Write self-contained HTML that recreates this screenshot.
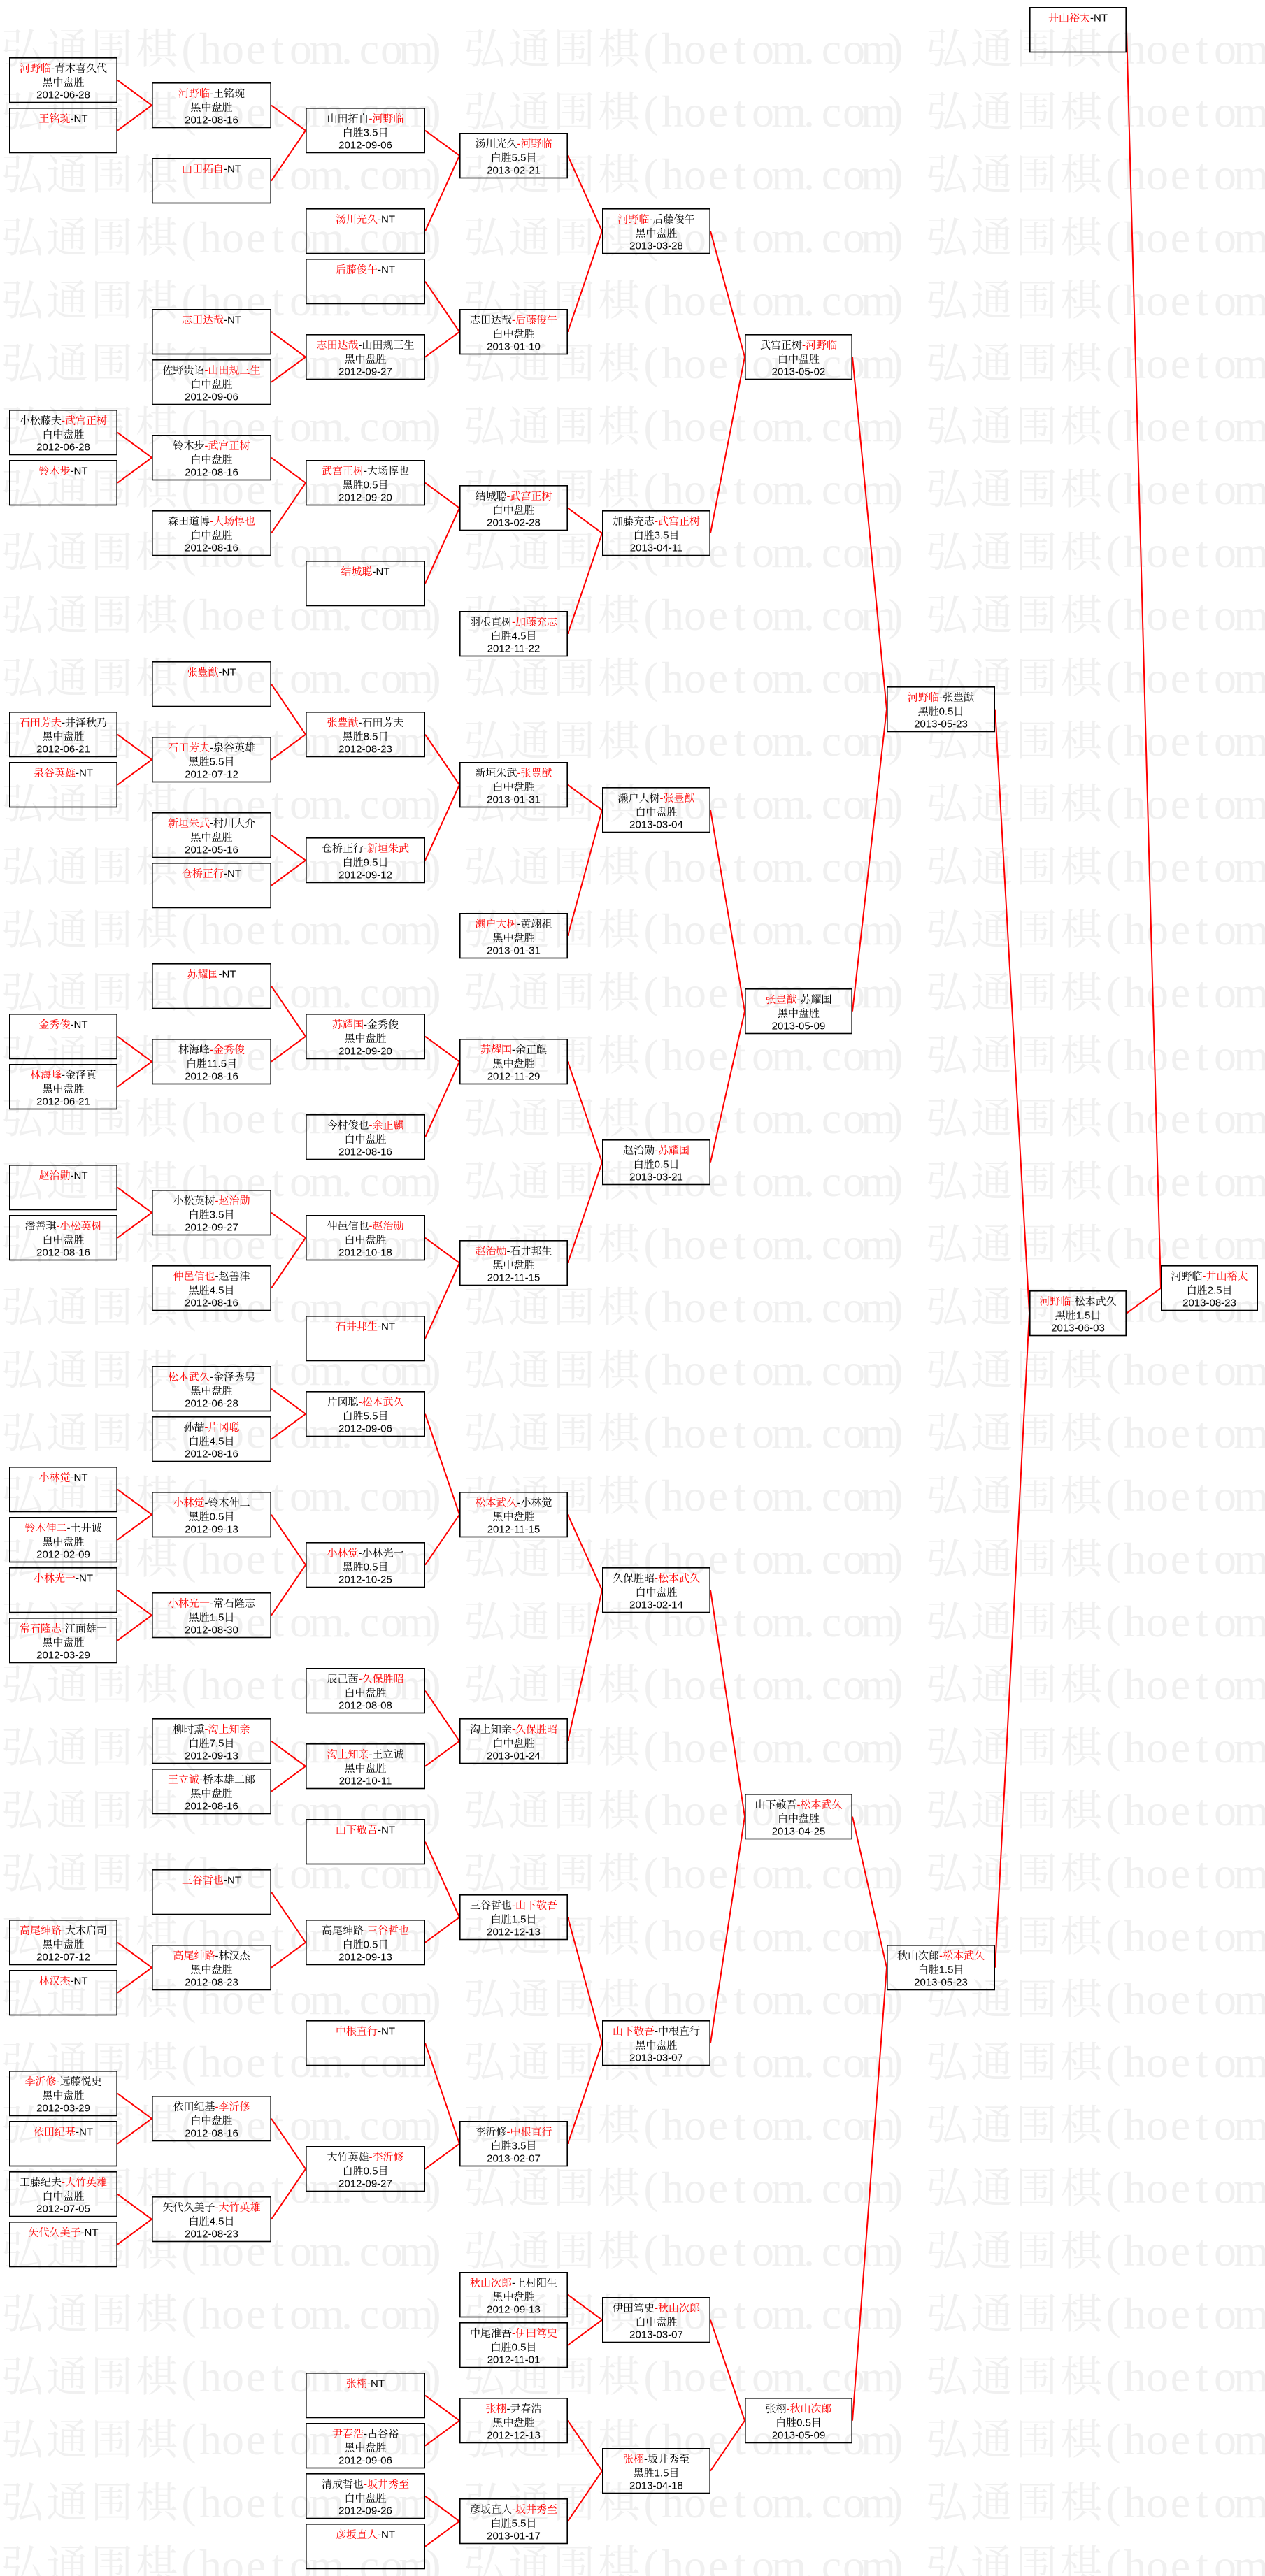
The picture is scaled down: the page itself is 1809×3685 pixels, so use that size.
<!DOCTYPE html>
<html><head><meta charset="utf-8"><style>
html,body{margin:0;padding:0;background:#fff;}
svg{display:block;}
.w{font-family:"Liberation Serif","Noto Serif CJK SC",serif;fill:#f0f0f0;text-anchor:middle;font-size:64px;}
.w .c{font-size:60px;}
.b{fill:none;stroke:#000;stroke-width:1.6;}
.t{font-family:"Liberation Sans","Noto Serif CJK SC",serif;font-size:15px;text-anchor:middle;fill:#000;}
.t .r{fill:#f00;}
.l{fill:none;stroke:#f00;stroke-width:2;}
</style></head><body>
<svg xmlns="http://www.w3.org/2000/svg" width="1809" height="3685" viewBox="0 0 1809 3685">
<rect width="1809" height="3685" fill="#fff"/>
<g class="w">
<text y="91"><tspan class="c" x="32 96 160 224">弘通围棋</tspan><tspan x="270 301 333 366 397 430 467 496 528 560 595 620">(hoetom.com)</tspan><tspan class="c" x="693 757 821 885">弘通围棋</tspan><tspan x="931 962 994 1027 1058 1091 1128 1157 1189 1221 1256 1281">(hoetom.com)</tspan><tspan class="c" x="1354 1418 1482 1546">弘通围棋</tspan><tspan x="1592 1623 1655 1688 1719 1752 1789 1818 1850 1882 1917 1942">(hoetom.com)</tspan></text>
<text y="181"><tspan class="c" x="32 96 160 224">弘通围棋</tspan><tspan x="270 301 333 366 397 430 467 496 528 560 595 620">(hoetom.com)</tspan><tspan class="c" x="693 757 821 885">弘通围棋</tspan><tspan x="931 962 994 1027 1058 1091 1128 1157 1189 1221 1256 1281">(hoetom.com)</tspan><tspan class="c" x="1354 1418 1482 1546">弘通围棋</tspan><tspan x="1592 1623 1655 1688 1719 1752 1789 1818 1850 1882 1917 1942">(hoetom.com)</tspan></text>
<text y="271"><tspan class="c" x="32 96 160 224">弘通围棋</tspan><tspan x="270 301 333 366 397 430 467 496 528 560 595 620">(hoetom.com)</tspan><tspan class="c" x="693 757 821 885">弘通围棋</tspan><tspan x="931 962 994 1027 1058 1091 1128 1157 1189 1221 1256 1281">(hoetom.com)</tspan><tspan class="c" x="1354 1418 1482 1546">弘通围棋</tspan><tspan x="1592 1623 1655 1688 1719 1752 1789 1818 1850 1882 1917 1942">(hoetom.com)</tspan></text>
<text y="361"><tspan class="c" x="32 96 160 224">弘通围棋</tspan><tspan x="270 301 333 366 397 430 467 496 528 560 595 620">(hoetom.com)</tspan><tspan class="c" x="693 757 821 885">弘通围棋</tspan><tspan x="931 962 994 1027 1058 1091 1128 1157 1189 1221 1256 1281">(hoetom.com)</tspan><tspan class="c" x="1354 1418 1482 1546">弘通围棋</tspan><tspan x="1592 1623 1655 1688 1719 1752 1789 1818 1850 1882 1917 1942">(hoetom.com)</tspan></text>
<text y="451"><tspan class="c" x="32 96 160 224">弘通围棋</tspan><tspan x="270 301 333 366 397 430 467 496 528 560 595 620">(hoetom.com)</tspan><tspan class="c" x="693 757 821 885">弘通围棋</tspan><tspan x="931 962 994 1027 1058 1091 1128 1157 1189 1221 1256 1281">(hoetom.com)</tspan><tspan class="c" x="1354 1418 1482 1546">弘通围棋</tspan><tspan x="1592 1623 1655 1688 1719 1752 1789 1818 1850 1882 1917 1942">(hoetom.com)</tspan></text>
<text y="541"><tspan class="c" x="32 96 160 224">弘通围棋</tspan><tspan x="270 301 333 366 397 430 467 496 528 560 595 620">(hoetom.com)</tspan><tspan class="c" x="693 757 821 885">弘通围棋</tspan><tspan x="931 962 994 1027 1058 1091 1128 1157 1189 1221 1256 1281">(hoetom.com)</tspan><tspan class="c" x="1354 1418 1482 1546">弘通围棋</tspan><tspan x="1592 1623 1655 1688 1719 1752 1789 1818 1850 1882 1917 1942">(hoetom.com)</tspan></text>
<text y="631"><tspan class="c" x="32 96 160 224">弘通围棋</tspan><tspan x="270 301 333 366 397 430 467 496 528 560 595 620">(hoetom.com)</tspan><tspan class="c" x="693 757 821 885">弘通围棋</tspan><tspan x="931 962 994 1027 1058 1091 1128 1157 1189 1221 1256 1281">(hoetom.com)</tspan><tspan class="c" x="1354 1418 1482 1546">弘通围棋</tspan><tspan x="1592 1623 1655 1688 1719 1752 1789 1818 1850 1882 1917 1942">(hoetom.com)</tspan></text>
<text y="721"><tspan class="c" x="32 96 160 224">弘通围棋</tspan><tspan x="270 301 333 366 397 430 467 496 528 560 595 620">(hoetom.com)</tspan><tspan class="c" x="693 757 821 885">弘通围棋</tspan><tspan x="931 962 994 1027 1058 1091 1128 1157 1189 1221 1256 1281">(hoetom.com)</tspan><tspan class="c" x="1354 1418 1482 1546">弘通围棋</tspan><tspan x="1592 1623 1655 1688 1719 1752 1789 1818 1850 1882 1917 1942">(hoetom.com)</tspan></text>
<text y="811"><tspan class="c" x="32 96 160 224">弘通围棋</tspan><tspan x="270 301 333 366 397 430 467 496 528 560 595 620">(hoetom.com)</tspan><tspan class="c" x="693 757 821 885">弘通围棋</tspan><tspan x="931 962 994 1027 1058 1091 1128 1157 1189 1221 1256 1281">(hoetom.com)</tspan><tspan class="c" x="1354 1418 1482 1546">弘通围棋</tspan><tspan x="1592 1623 1655 1688 1719 1752 1789 1818 1850 1882 1917 1942">(hoetom.com)</tspan></text>
<text y="901"><tspan class="c" x="32 96 160 224">弘通围棋</tspan><tspan x="270 301 333 366 397 430 467 496 528 560 595 620">(hoetom.com)</tspan><tspan class="c" x="693 757 821 885">弘通围棋</tspan><tspan x="931 962 994 1027 1058 1091 1128 1157 1189 1221 1256 1281">(hoetom.com)</tspan><tspan class="c" x="1354 1418 1482 1546">弘通围棋</tspan><tspan x="1592 1623 1655 1688 1719 1752 1789 1818 1850 1882 1917 1942">(hoetom.com)</tspan></text>
<text y="991"><tspan class="c" x="32 96 160 224">弘通围棋</tspan><tspan x="270 301 333 366 397 430 467 496 528 560 595 620">(hoetom.com)</tspan><tspan class="c" x="693 757 821 885">弘通围棋</tspan><tspan x="931 962 994 1027 1058 1091 1128 1157 1189 1221 1256 1281">(hoetom.com)</tspan><tspan class="c" x="1354 1418 1482 1546">弘通围棋</tspan><tspan x="1592 1623 1655 1688 1719 1752 1789 1818 1850 1882 1917 1942">(hoetom.com)</tspan></text>
<text y="1081"><tspan class="c" x="32 96 160 224">弘通围棋</tspan><tspan x="270 301 333 366 397 430 467 496 528 560 595 620">(hoetom.com)</tspan><tspan class="c" x="693 757 821 885">弘通围棋</tspan><tspan x="931 962 994 1027 1058 1091 1128 1157 1189 1221 1256 1281">(hoetom.com)</tspan><tspan class="c" x="1354 1418 1482 1546">弘通围棋</tspan><tspan x="1592 1623 1655 1688 1719 1752 1789 1818 1850 1882 1917 1942">(hoetom.com)</tspan></text>
<text y="1171"><tspan class="c" x="32 96 160 224">弘通围棋</tspan><tspan x="270 301 333 366 397 430 467 496 528 560 595 620">(hoetom.com)</tspan><tspan class="c" x="693 757 821 885">弘通围棋</tspan><tspan x="931 962 994 1027 1058 1091 1128 1157 1189 1221 1256 1281">(hoetom.com)</tspan><tspan class="c" x="1354 1418 1482 1546">弘通围棋</tspan><tspan x="1592 1623 1655 1688 1719 1752 1789 1818 1850 1882 1917 1942">(hoetom.com)</tspan></text>
<text y="1261"><tspan class="c" x="32 96 160 224">弘通围棋</tspan><tspan x="270 301 333 366 397 430 467 496 528 560 595 620">(hoetom.com)</tspan><tspan class="c" x="693 757 821 885">弘通围棋</tspan><tspan x="931 962 994 1027 1058 1091 1128 1157 1189 1221 1256 1281">(hoetom.com)</tspan><tspan class="c" x="1354 1418 1482 1546">弘通围棋</tspan><tspan x="1592 1623 1655 1688 1719 1752 1789 1818 1850 1882 1917 1942">(hoetom.com)</tspan></text>
<text y="1351"><tspan class="c" x="32 96 160 224">弘通围棋</tspan><tspan x="270 301 333 366 397 430 467 496 528 560 595 620">(hoetom.com)</tspan><tspan class="c" x="693 757 821 885">弘通围棋</tspan><tspan x="931 962 994 1027 1058 1091 1128 1157 1189 1221 1256 1281">(hoetom.com)</tspan><tspan class="c" x="1354 1418 1482 1546">弘通围棋</tspan><tspan x="1592 1623 1655 1688 1719 1752 1789 1818 1850 1882 1917 1942">(hoetom.com)</tspan></text>
<text y="1441"><tspan class="c" x="32 96 160 224">弘通围棋</tspan><tspan x="270 301 333 366 397 430 467 496 528 560 595 620">(hoetom.com)</tspan><tspan class="c" x="693 757 821 885">弘通围棋</tspan><tspan x="931 962 994 1027 1058 1091 1128 1157 1189 1221 1256 1281">(hoetom.com)</tspan><tspan class="c" x="1354 1418 1482 1546">弘通围棋</tspan><tspan x="1592 1623 1655 1688 1719 1752 1789 1818 1850 1882 1917 1942">(hoetom.com)</tspan></text>
<text y="1531"><tspan class="c" x="32 96 160 224">弘通围棋</tspan><tspan x="270 301 333 366 397 430 467 496 528 560 595 620">(hoetom.com)</tspan><tspan class="c" x="693 757 821 885">弘通围棋</tspan><tspan x="931 962 994 1027 1058 1091 1128 1157 1189 1221 1256 1281">(hoetom.com)</tspan><tspan class="c" x="1354 1418 1482 1546">弘通围棋</tspan><tspan x="1592 1623 1655 1688 1719 1752 1789 1818 1850 1882 1917 1942">(hoetom.com)</tspan></text>
<text y="1621"><tspan class="c" x="32 96 160 224">弘通围棋</tspan><tspan x="270 301 333 366 397 430 467 496 528 560 595 620">(hoetom.com)</tspan><tspan class="c" x="693 757 821 885">弘通围棋</tspan><tspan x="931 962 994 1027 1058 1091 1128 1157 1189 1221 1256 1281">(hoetom.com)</tspan><tspan class="c" x="1354 1418 1482 1546">弘通围棋</tspan><tspan x="1592 1623 1655 1688 1719 1752 1789 1818 1850 1882 1917 1942">(hoetom.com)</tspan></text>
<text y="1711"><tspan class="c" x="32 96 160 224">弘通围棋</tspan><tspan x="270 301 333 366 397 430 467 496 528 560 595 620">(hoetom.com)</tspan><tspan class="c" x="693 757 821 885">弘通围棋</tspan><tspan x="931 962 994 1027 1058 1091 1128 1157 1189 1221 1256 1281">(hoetom.com)</tspan><tspan class="c" x="1354 1418 1482 1546">弘通围棋</tspan><tspan x="1592 1623 1655 1688 1719 1752 1789 1818 1850 1882 1917 1942">(hoetom.com)</tspan></text>
<text y="1801"><tspan class="c" x="32 96 160 224">弘通围棋</tspan><tspan x="270 301 333 366 397 430 467 496 528 560 595 620">(hoetom.com)</tspan><tspan class="c" x="693 757 821 885">弘通围棋</tspan><tspan x="931 962 994 1027 1058 1091 1128 1157 1189 1221 1256 1281">(hoetom.com)</tspan><tspan class="c" x="1354 1418 1482 1546">弘通围棋</tspan><tspan x="1592 1623 1655 1688 1719 1752 1789 1818 1850 1882 1917 1942">(hoetom.com)</tspan></text>
<text y="1891"><tspan class="c" x="32 96 160 224">弘通围棋</tspan><tspan x="270 301 333 366 397 430 467 496 528 560 595 620">(hoetom.com)</tspan><tspan class="c" x="693 757 821 885">弘通围棋</tspan><tspan x="931 962 994 1027 1058 1091 1128 1157 1189 1221 1256 1281">(hoetom.com)</tspan><tspan class="c" x="1354 1418 1482 1546">弘通围棋</tspan><tspan x="1592 1623 1655 1688 1719 1752 1789 1818 1850 1882 1917 1942">(hoetom.com)</tspan></text>
<text y="1981"><tspan class="c" x="32 96 160 224">弘通围棋</tspan><tspan x="270 301 333 366 397 430 467 496 528 560 595 620">(hoetom.com)</tspan><tspan class="c" x="693 757 821 885">弘通围棋</tspan><tspan x="931 962 994 1027 1058 1091 1128 1157 1189 1221 1256 1281">(hoetom.com)</tspan><tspan class="c" x="1354 1418 1482 1546">弘通围棋</tspan><tspan x="1592 1623 1655 1688 1719 1752 1789 1818 1850 1882 1917 1942">(hoetom.com)</tspan></text>
<text y="2071"><tspan class="c" x="32 96 160 224">弘通围棋</tspan><tspan x="270 301 333 366 397 430 467 496 528 560 595 620">(hoetom.com)</tspan><tspan class="c" x="693 757 821 885">弘通围棋</tspan><tspan x="931 962 994 1027 1058 1091 1128 1157 1189 1221 1256 1281">(hoetom.com)</tspan><tspan class="c" x="1354 1418 1482 1546">弘通围棋</tspan><tspan x="1592 1623 1655 1688 1719 1752 1789 1818 1850 1882 1917 1942">(hoetom.com)</tspan></text>
<text y="2161"><tspan class="c" x="32 96 160 224">弘通围棋</tspan><tspan x="270 301 333 366 397 430 467 496 528 560 595 620">(hoetom.com)</tspan><tspan class="c" x="693 757 821 885">弘通围棋</tspan><tspan x="931 962 994 1027 1058 1091 1128 1157 1189 1221 1256 1281">(hoetom.com)</tspan><tspan class="c" x="1354 1418 1482 1546">弘通围棋</tspan><tspan x="1592 1623 1655 1688 1719 1752 1789 1818 1850 1882 1917 1942">(hoetom.com)</tspan></text>
<text y="2251"><tspan class="c" x="32 96 160 224">弘通围棋</tspan><tspan x="270 301 333 366 397 430 467 496 528 560 595 620">(hoetom.com)</tspan><tspan class="c" x="693 757 821 885">弘通围棋</tspan><tspan x="931 962 994 1027 1058 1091 1128 1157 1189 1221 1256 1281">(hoetom.com)</tspan><tspan class="c" x="1354 1418 1482 1546">弘通围棋</tspan><tspan x="1592 1623 1655 1688 1719 1752 1789 1818 1850 1882 1917 1942">(hoetom.com)</tspan></text>
<text y="2341"><tspan class="c" x="32 96 160 224">弘通围棋</tspan><tspan x="270 301 333 366 397 430 467 496 528 560 595 620">(hoetom.com)</tspan><tspan class="c" x="693 757 821 885">弘通围棋</tspan><tspan x="931 962 994 1027 1058 1091 1128 1157 1189 1221 1256 1281">(hoetom.com)</tspan><tspan class="c" x="1354 1418 1482 1546">弘通围棋</tspan><tspan x="1592 1623 1655 1688 1719 1752 1789 1818 1850 1882 1917 1942">(hoetom.com)</tspan></text>
<text y="2431"><tspan class="c" x="32 96 160 224">弘通围棋</tspan><tspan x="270 301 333 366 397 430 467 496 528 560 595 620">(hoetom.com)</tspan><tspan class="c" x="693 757 821 885">弘通围棋</tspan><tspan x="931 962 994 1027 1058 1091 1128 1157 1189 1221 1256 1281">(hoetom.com)</tspan><tspan class="c" x="1354 1418 1482 1546">弘通围棋</tspan><tspan x="1592 1623 1655 1688 1719 1752 1789 1818 1850 1882 1917 1942">(hoetom.com)</tspan></text>
<text y="2521"><tspan class="c" x="32 96 160 224">弘通围棋</tspan><tspan x="270 301 333 366 397 430 467 496 528 560 595 620">(hoetom.com)</tspan><tspan class="c" x="693 757 821 885">弘通围棋</tspan><tspan x="931 962 994 1027 1058 1091 1128 1157 1189 1221 1256 1281">(hoetom.com)</tspan><tspan class="c" x="1354 1418 1482 1546">弘通围棋</tspan><tspan x="1592 1623 1655 1688 1719 1752 1789 1818 1850 1882 1917 1942">(hoetom.com)</tspan></text>
<text y="2611"><tspan class="c" x="32 96 160 224">弘通围棋</tspan><tspan x="270 301 333 366 397 430 467 496 528 560 595 620">(hoetom.com)</tspan><tspan class="c" x="693 757 821 885">弘通围棋</tspan><tspan x="931 962 994 1027 1058 1091 1128 1157 1189 1221 1256 1281">(hoetom.com)</tspan><tspan class="c" x="1354 1418 1482 1546">弘通围棋</tspan><tspan x="1592 1623 1655 1688 1719 1752 1789 1818 1850 1882 1917 1942">(hoetom.com)</tspan></text>
<text y="2701"><tspan class="c" x="32 96 160 224">弘通围棋</tspan><tspan x="270 301 333 366 397 430 467 496 528 560 595 620">(hoetom.com)</tspan><tspan class="c" x="693 757 821 885">弘通围棋</tspan><tspan x="931 962 994 1027 1058 1091 1128 1157 1189 1221 1256 1281">(hoetom.com)</tspan><tspan class="c" x="1354 1418 1482 1546">弘通围棋</tspan><tspan x="1592 1623 1655 1688 1719 1752 1789 1818 1850 1882 1917 1942">(hoetom.com)</tspan></text>
<text y="2791"><tspan class="c" x="32 96 160 224">弘通围棋</tspan><tspan x="270 301 333 366 397 430 467 496 528 560 595 620">(hoetom.com)</tspan><tspan class="c" x="693 757 821 885">弘通围棋</tspan><tspan x="931 962 994 1027 1058 1091 1128 1157 1189 1221 1256 1281">(hoetom.com)</tspan><tspan class="c" x="1354 1418 1482 1546">弘通围棋</tspan><tspan x="1592 1623 1655 1688 1719 1752 1789 1818 1850 1882 1917 1942">(hoetom.com)</tspan></text>
<text y="2881"><tspan class="c" x="32 96 160 224">弘通围棋</tspan><tspan x="270 301 333 366 397 430 467 496 528 560 595 620">(hoetom.com)</tspan><tspan class="c" x="693 757 821 885">弘通围棋</tspan><tspan x="931 962 994 1027 1058 1091 1128 1157 1189 1221 1256 1281">(hoetom.com)</tspan><tspan class="c" x="1354 1418 1482 1546">弘通围棋</tspan><tspan x="1592 1623 1655 1688 1719 1752 1789 1818 1850 1882 1917 1942">(hoetom.com)</tspan></text>
<text y="2971"><tspan class="c" x="32 96 160 224">弘通围棋</tspan><tspan x="270 301 333 366 397 430 467 496 528 560 595 620">(hoetom.com)</tspan><tspan class="c" x="693 757 821 885">弘通围棋</tspan><tspan x="931 962 994 1027 1058 1091 1128 1157 1189 1221 1256 1281">(hoetom.com)</tspan><tspan class="c" x="1354 1418 1482 1546">弘通围棋</tspan><tspan x="1592 1623 1655 1688 1719 1752 1789 1818 1850 1882 1917 1942">(hoetom.com)</tspan></text>
<text y="3061"><tspan class="c" x="32 96 160 224">弘通围棋</tspan><tspan x="270 301 333 366 397 430 467 496 528 560 595 620">(hoetom.com)</tspan><tspan class="c" x="693 757 821 885">弘通围棋</tspan><tspan x="931 962 994 1027 1058 1091 1128 1157 1189 1221 1256 1281">(hoetom.com)</tspan><tspan class="c" x="1354 1418 1482 1546">弘通围棋</tspan><tspan x="1592 1623 1655 1688 1719 1752 1789 1818 1850 1882 1917 1942">(hoetom.com)</tspan></text>
<text y="3151"><tspan class="c" x="32 96 160 224">弘通围棋</tspan><tspan x="270 301 333 366 397 430 467 496 528 560 595 620">(hoetom.com)</tspan><tspan class="c" x="693 757 821 885">弘通围棋</tspan><tspan x="931 962 994 1027 1058 1091 1128 1157 1189 1221 1256 1281">(hoetom.com)</tspan><tspan class="c" x="1354 1418 1482 1546">弘通围棋</tspan><tspan x="1592 1623 1655 1688 1719 1752 1789 1818 1850 1882 1917 1942">(hoetom.com)</tspan></text>
<text y="3241"><tspan class="c" x="32 96 160 224">弘通围棋</tspan><tspan x="270 301 333 366 397 430 467 496 528 560 595 620">(hoetom.com)</tspan><tspan class="c" x="693 757 821 885">弘通围棋</tspan><tspan x="931 962 994 1027 1058 1091 1128 1157 1189 1221 1256 1281">(hoetom.com)</tspan><tspan class="c" x="1354 1418 1482 1546">弘通围棋</tspan><tspan x="1592 1623 1655 1688 1719 1752 1789 1818 1850 1882 1917 1942">(hoetom.com)</tspan></text>
<text y="3331"><tspan class="c" x="32 96 160 224">弘通围棋</tspan><tspan x="270 301 333 366 397 430 467 496 528 560 595 620">(hoetom.com)</tspan><tspan class="c" x="693 757 821 885">弘通围棋</tspan><tspan x="931 962 994 1027 1058 1091 1128 1157 1189 1221 1256 1281">(hoetom.com)</tspan><tspan class="c" x="1354 1418 1482 1546">弘通围棋</tspan><tspan x="1592 1623 1655 1688 1719 1752 1789 1818 1850 1882 1917 1942">(hoetom.com)</tspan></text>
<text y="3421"><tspan class="c" x="32 96 160 224">弘通围棋</tspan><tspan x="270 301 333 366 397 430 467 496 528 560 595 620">(hoetom.com)</tspan><tspan class="c" x="693 757 821 885">弘通围棋</tspan><tspan x="931 962 994 1027 1058 1091 1128 1157 1189 1221 1256 1281">(hoetom.com)</tspan><tspan class="c" x="1354 1418 1482 1546">弘通围棋</tspan><tspan x="1592 1623 1655 1688 1719 1752 1789 1818 1850 1882 1917 1942">(hoetom.com)</tspan></text>
<text y="3511"><tspan class="c" x="32 96 160 224">弘通围棋</tspan><tspan x="270 301 333 366 397 430 467 496 528 560 595 620">(hoetom.com)</tspan><tspan class="c" x="693 757 821 885">弘通围棋</tspan><tspan x="931 962 994 1027 1058 1091 1128 1157 1189 1221 1256 1281">(hoetom.com)</tspan><tspan class="c" x="1354 1418 1482 1546">弘通围棋</tspan><tspan x="1592 1623 1655 1688 1719 1752 1789 1818 1850 1882 1917 1942">(hoetom.com)</tspan></text>
<text y="3601"><tspan class="c" x="32 96 160 224">弘通围棋</tspan><tspan x="270 301 333 366 397 430 467 496 528 560 595 620">(hoetom.com)</tspan><tspan class="c" x="693 757 821 885">弘通围棋</tspan><tspan x="931 962 994 1027 1058 1091 1128 1157 1189 1221 1256 1281">(hoetom.com)</tspan><tspan class="c" x="1354 1418 1482 1546">弘通围棋</tspan><tspan x="1592 1623 1655 1688 1719 1752 1789 1818 1850 1882 1917 1942">(hoetom.com)</tspan></text>
<text y="3691"><tspan class="c" x="32 96 160 224">弘通围棋</tspan><tspan x="270 301 333 366 397 430 467 496 528 560 595 620">(hoetom.com)</tspan><tspan class="c" x="693 757 821 885">弘通围棋</tspan><tspan x="931 962 994 1027 1058 1091 1128 1157 1189 1221 1256 1281">(hoetom.com)</tspan><tspan class="c" x="1354 1418 1482 1546">弘通围棋</tspan><tspan x="1592 1623 1655 1688 1719 1752 1789 1818 1850 1882 1917 1942">(hoetom.com)</tspan></text>
</g>

<path class="l" d="M168 114.65L217 150.65M168 186.65L217 150.65M388 150.65L437 186.65M388 258.65L437 186.65M608 186.65L657 222.65M608 330.65L657 222.65M388 474.65L437 510.65M388 546.65L437 510.65M608 402.65L657 474.65M608 510.65L657 474.65M812 222.65L861 330.65M812 474.65L861 330.65M168 618.65L217 654.65M168 690.65L217 654.65M388 654.65L437 690.65M388 762.65L437 690.65M608 690.65L657 726.65M608 834.65L657 726.65M812 726.65L861 762.65M812 906.65L861 762.65M1016 330.65L1065 510.65M1016 762.65L1065 510.65M168 1050.65L217 1086.65M168 1122.65L217 1086.65M388 978.65L437 1050.65M388 1086.65L437 1050.65M388 1194.65L437 1230.65M388 1266.65L437 1230.65M608 1050.65L657 1122.65M608 1230.65L657 1122.65M812 1122.65L861 1158.65M812 1338.65L861 1158.65M168 1482.65L217 1518.65M168 1554.65L217 1518.65M388 1410.65L437 1482.65M388 1518.65L437 1482.65M608 1482.65L657 1518.65M608 1626.65L657 1518.65M168 1698.65L217 1734.65M168 1770.65L217 1734.65M388 1734.65L437 1770.65M388 1842.65L437 1770.65M608 1770.65L657 1806.65M608 1914.65L657 1806.65M812 1518.65L861 1662.65M812 1806.65L861 1662.65M1016 1158.65L1065 1446.65M1016 1662.65L1065 1446.65M1219 510.65L1268 1014.65M1219 1446.65L1268 1014.65M388 1986.65L437 2022.65M388 2058.65L437 2022.65M168 2130.65L217 2166.65M168 2202.65L217 2166.65M168 2274.65L217 2310.65M168 2346.65L217 2310.65M388 2166.65L437 2238.65M388 2310.65L437 2238.65M608 2022.65L657 2166.65M608 2238.65L657 2166.65M388 2490.65L437 2526.65M388 2562.65L437 2526.65M608 2418.65L657 2490.65M608 2526.65L657 2490.65M812 2166.65L861 2274.65M812 2490.65L861 2274.65M168 2778.65L217 2814.65M168 2850.65L217 2814.65M388 2706.65L437 2778.65M388 2814.65L437 2778.65M608 2634.65L657 2742.65M608 2778.65L657 2742.65M168 2994.65L217 3030.65M168 3066.65L217 3030.65M168 3138.65L217 3174.65M168 3210.65L217 3174.65M388 3030.65L437 3102.65M388 3174.65L437 3102.65M608 2922.65L657 3066.65M608 3102.65L657 3066.65M812 2742.65L861 2922.65M812 3066.65L861 2922.65M1016 2274.65L1065 2598.65M1016 2922.65L1065 2598.65M812 3282.65L861 3318.65M812 3354.65L861 3318.65M608 3426.65L657 3462.65M608 3498.65L657 3462.65M608 3570.65L657 3606.65M608 3642.65L657 3606.65M812 3462.65L861 3534.65M812 3606.65L861 3534.65M1016 3318.65L1065 3462.65M1016 3534.65L1065 3462.65M1219 2598.65L1268 2814.65M1219 3462.65L1268 2814.65M1423 1014.65L1472 1878.65M1423 2814.65L1472 1878.65M1611 42.65L1660 1842.65M1611 1878.65L1660 1842.65"/>

<g class="t">
<!-- Column 1 -->
<g transform="translate(13,82)"><rect class="b" x=".8" y=".8" width="153.4" height="63.7"/><text x="77.5" y="20.5"><tspan class="r">河野临</tspan>-青木喜久代</text><text x="77.5" y="40.3">黑中盘胜</text><text x="77.5" y="58.7">2012-06-28</text></g>
<g transform="translate(13,154)"><rect class="b" x=".8" y=".8" width="153.4" height="63.7"/><text x="77.5" y="20.5"><tspan class="r">王铭琬</tspan>-NT</text></g>
<g transform="translate(13,586)"><rect class="b" x=".8" y=".8" width="153.4" height="63.7"/><text x="77.5" y="20.5">小松藤夫<tspan class="r">-武宫正树</tspan></text><text x="77.5" y="40.3">白中盘胜</text><text x="77.5" y="58.7">2012-06-28</text></g>
<g transform="translate(13,658)"><rect class="b" x=".8" y=".8" width="153.4" height="63.7"/><text x="77.5" y="20.5"><tspan class="r">铃木步</tspan>-NT</text></g>
<g transform="translate(13,1018)"><rect class="b" x=".8" y=".8" width="153.4" height="63.7"/><text x="77.5" y="20.5"><tspan class="r">石田芳夫</tspan>-井泽秋乃</text><text x="77.5" y="40.3">黑中盘胜</text><text x="77.5" y="58.7">2012-06-21</text></g>
<g transform="translate(13,1090)"><rect class="b" x=".8" y=".8" width="153.4" height="63.7"/><text x="77.5" y="20.5"><tspan class="r">泉谷英雄</tspan>-NT</text></g>
<g transform="translate(13,1450)"><rect class="b" x=".8" y=".8" width="153.4" height="63.7"/><text x="77.5" y="20.5"><tspan class="r">金秀俊</tspan>-NT</text></g>
<g transform="translate(13,1522)"><rect class="b" x=".8" y=".8" width="153.4" height="63.7"/><text x="77.5" y="20.5"><tspan class="r">林海峰</tspan>-金泽真</text><text x="77.5" y="40.3">黑中盘胜</text><text x="77.5" y="58.7">2012-06-21</text></g>
<g transform="translate(13,1666)"><rect class="b" x=".8" y=".8" width="153.4" height="63.7"/><text x="77.5" y="20.5"><tspan class="r">赵治勋</tspan>-NT</text></g>
<g transform="translate(13,1738)"><rect class="b" x=".8" y=".8" width="153.4" height="63.7"/><text x="77.5" y="20.5">潘善琪<tspan class="r">-小松英树</tspan></text><text x="77.5" y="40.3">白中盘胜</text><text x="77.5" y="58.7">2012-08-16</text></g>
<g transform="translate(13,2098)"><rect class="b" x=".8" y=".8" width="153.4" height="63.7"/><text x="77.5" y="20.5"><tspan class="r">小林觉</tspan>-NT</text></g>
<g transform="translate(13,2170)"><rect class="b" x=".8" y=".8" width="153.4" height="63.7"/><text x="77.5" y="20.5"><tspan class="r">铃木伸二</tspan>-土井诚</text><text x="77.5" y="40.3">黑中盘胜</text><text x="77.5" y="58.7">2012-02-09</text></g>
<g transform="translate(13,2242)"><rect class="b" x=".8" y=".8" width="153.4" height="63.7"/><text x="77.5" y="20.5"><tspan class="r">小林光一</tspan>-NT</text></g>
<g transform="translate(13,2314)"><rect class="b" x=".8" y=".8" width="153.4" height="63.7"/><text x="77.5" y="20.5"><tspan class="r">常石隆志</tspan>-江面雄一</text><text x="77.5" y="40.3">黑中盘胜</text><text x="77.5" y="58.7">2012-03-29</text></g>
<g transform="translate(13,2746)"><rect class="b" x=".8" y=".8" width="153.4" height="63.7"/><text x="77.5" y="20.5"><tspan class="r">高尾绅路</tspan>-大木启司</text><text x="77.5" y="40.3">黑中盘胜</text><text x="77.5" y="58.7">2012-07-12</text></g>
<g transform="translate(13,2818)"><rect class="b" x=".8" y=".8" width="153.4" height="63.7"/><text x="77.5" y="20.5"><tspan class="r">林汉杰</tspan>-NT</text></g>
<g transform="translate(13,2962)"><rect class="b" x=".8" y=".8" width="153.4" height="63.7"/><text x="77.5" y="20.5"><tspan class="r">李沂修</tspan>-远藤悦史</text><text x="77.5" y="40.3">黑中盘胜</text><text x="77.5" y="58.7">2012-03-29</text></g>
<g transform="translate(13,3034)"><rect class="b" x=".8" y=".8" width="153.4" height="63.7"/><text x="77.5" y="20.5"><tspan class="r">依田纪基</tspan>-NT</text></g>
<g transform="translate(13,3106)"><rect class="b" x=".8" y=".8" width="153.4" height="63.7"/><text x="77.5" y="20.5">工藤纪夫<tspan class="r">-大竹英雄</tspan></text><text x="77.5" y="40.3">白中盘胜</text><text x="77.5" y="58.7">2012-07-05</text></g>
<g transform="translate(13,3178)"><rect class="b" x=".8" y=".8" width="153.4" height="63.7"/><text x="77.5" y="20.5"><tspan class="r">矢代久美子</tspan>-NT</text></g>

<!-- Column 2 -->
<g transform="translate(217,118)"><rect class="b" x=".8" y=".8" width="169.4" height="63.7"/><text x="85.5" y="20.5"><tspan class="r">河野临</tspan>-王铭琬</text><text x="85.5" y="40.3">黑中盘胜</text><text x="85.5" y="58.7">2012-08-16</text></g>
<g transform="translate(217,226)"><rect class="b" x=".8" y=".8" width="169.4" height="63.7"/><text x="85.5" y="20.5"><tspan class="r">山田拓自</tspan>-NT</text></g>
<g transform="translate(217,442)"><rect class="b" x=".8" y=".8" width="169.4" height="63.7"/><text x="85.5" y="20.5"><tspan class="r">志田达哉</tspan>-NT</text></g>
<g transform="translate(217,514)"><rect class="b" x=".8" y=".8" width="169.4" height="63.7"/><text x="85.5" y="20.5">佐野贵诏<tspan class="r">-山田规三生</tspan></text><text x="85.5" y="40.3">白中盘胜</text><text x="85.5" y="58.7">2012-09-06</text></g>
<g transform="translate(217,622)"><rect class="b" x=".8" y=".8" width="169.4" height="63.7"/><text x="85.5" y="20.5">铃木步<tspan class="r">-武宫正树</tspan></text><text x="85.5" y="40.3">白中盘胜</text><text x="85.5" y="58.7">2012-08-16</text></g>
<g transform="translate(217,730)"><rect class="b" x=".8" y=".8" width="169.4" height="63.7"/><text x="85.5" y="20.5">森田道博<tspan class="r">-大场惇也</tspan></text><text x="85.5" y="40.3">白中盘胜</text><text x="85.5" y="58.7">2012-08-16</text></g>
<g transform="translate(217,946)"><rect class="b" x=".8" y=".8" width="169.4" height="63.7"/><text x="85.5" y="20.5"><tspan class="r">张豊猷</tspan>-NT</text></g>
<g transform="translate(217,1054)"><rect class="b" x=".8" y=".8" width="169.4" height="63.7"/><text x="85.5" y="20.5"><tspan class="r">石田芳夫</tspan>-泉谷英雄</text><text x="85.5" y="40.3">黑胜5.5目</text><text x="85.5" y="58.7">2012-07-12</text></g>
<g transform="translate(217,1162)"><rect class="b" x=".8" y=".8" width="169.4" height="63.7"/><text x="85.5" y="20.5"><tspan class="r">新垣朱武</tspan>-村川大介</text><text x="85.5" y="40.3">黑中盘胜</text><text x="85.5" y="58.7">2012-05-16</text></g>
<g transform="translate(217,1234)"><rect class="b" x=".8" y=".8" width="169.4" height="63.7"/><text x="85.5" y="20.5"><tspan class="r">仓桥正行</tspan>-NT</text></g>
<g transform="translate(217,1378)"><rect class="b" x=".8" y=".8" width="169.4" height="63.7"/><text x="85.5" y="20.5"><tspan class="r">苏耀国</tspan>-NT</text></g>
<g transform="translate(217,1486)"><rect class="b" x=".8" y=".8" width="169.4" height="63.7"/><text x="85.5" y="20.5">林海峰<tspan class="r">-金秀俊</tspan></text><text x="85.5" y="40.3">白胜11.5目</text><text x="85.5" y="58.7">2012-08-16</text></g>
<g transform="translate(217,1702)"><rect class="b" x=".8" y=".8" width="169.4" height="63.7"/><text x="85.5" y="20.5">小松英树<tspan class="r">-赵治勋</tspan></text><text x="85.5" y="40.3">白胜3.5目</text><text x="85.5" y="58.7">2012-09-27</text></g>
<g transform="translate(217,1810)"><rect class="b" x=".8" y=".8" width="169.4" height="63.7"/><text x="85.5" y="20.5"><tspan class="r">仲邑信也</tspan>-赵善津</text><text x="85.5" y="40.3">黑胜4.5目</text><text x="85.5" y="58.7">2012-08-16</text></g>
<g transform="translate(217,1954)"><rect class="b" x=".8" y=".8" width="169.4" height="63.7"/><text x="85.5" y="20.5"><tspan class="r">松本武久</tspan>-金泽秀男</text><text x="85.5" y="40.3">黑中盘胜</text><text x="85.5" y="58.7">2012-06-28</text></g>
<g transform="translate(217,2026)"><rect class="b" x=".8" y=".8" width="169.4" height="63.7"/><text x="85.5" y="20.5">孙喆<tspan class="r">-片冈聪</tspan></text><text x="85.5" y="40.3">白胜4.5目</text><text x="85.5" y="58.7">2012-08-16</text></g>
<g transform="translate(217,2134)"><rect class="b" x=".8" y=".8" width="169.4" height="63.7"/><text x="85.5" y="20.5"><tspan class="r">小林觉</tspan>-铃木伸二</text><text x="85.5" y="40.3">黑胜0.5目</text><text x="85.5" y="58.7">2012-09-13</text></g>
<g transform="translate(217,2278)"><rect class="b" x=".8" y=".8" width="169.4" height="63.7"/><text x="85.5" y="20.5"><tspan class="r">小林光一</tspan>-常石隆志</text><text x="85.5" y="40.3">黑胜1.5目</text><text x="85.5" y="58.7">2012-08-30</text></g>
<g transform="translate(217,2458)"><rect class="b" x=".8" y=".8" width="169.4" height="63.7"/><text x="85.5" y="20.5">柳时熏<tspan class="r">-沟上知亲</tspan></text><text x="85.5" y="40.3">白胜7.5目</text><text x="85.5" y="58.7">2012-09-13</text></g>
<g transform="translate(217,2530)"><rect class="b" x=".8" y=".8" width="169.4" height="63.7"/><text x="85.5" y="20.5"><tspan class="r">王立诚</tspan>-桥本雄二郎</text><text x="85.5" y="40.3">黑中盘胜</text><text x="85.5" y="58.7">2012-08-16</text></g>
<g transform="translate(217,2674)"><rect class="b" x=".8" y=".8" width="169.4" height="63.7"/><text x="85.5" y="20.5"><tspan class="r">三谷哲也</tspan>-NT</text></g>
<g transform="translate(217,2782)"><rect class="b" x=".8" y=".8" width="169.4" height="63.7"/><text x="85.5" y="20.5"><tspan class="r">高尾绅路</tspan>-林汉杰</text><text x="85.5" y="40.3">黑中盘胜</text><text x="85.5" y="58.7">2012-08-23</text></g>
<g transform="translate(217,2998)"><rect class="b" x=".8" y=".8" width="169.4" height="63.7"/><text x="85.5" y="20.5">依田纪基<tspan class="r">-李沂修</tspan></text><text x="85.5" y="40.3">白中盘胜</text><text x="85.5" y="58.7">2012-08-16</text></g>
<g transform="translate(217,3142)"><rect class="b" x=".8" y=".8" width="169.4" height="63.7"/><text x="85.5" y="20.5">矢代久美子<tspan class="r">-大竹英雄</tspan></text><text x="85.5" y="40.3">白胜4.5目</text><text x="85.5" y="58.7">2012-08-23</text></g>

<!-- Column 3 -->
<g transform="translate(437,154)"><rect class="b" x=".8" y=".8" width="169.4" height="63.7"/><text x="85.5" y="20.5">山田拓自<tspan class="r">-河野临</tspan></text><text x="85.5" y="40.3">白胜3.5目</text><text x="85.5" y="58.7">2012-09-06</text></g>
<g transform="translate(437,298)"><rect class="b" x=".8" y=".8" width="169.4" height="63.7"/><text x="85.5" y="20.5"><tspan class="r">汤川光久</tspan>-NT</text></g>
<g transform="translate(437,370)"><rect class="b" x=".8" y=".8" width="169.4" height="63.7"/><text x="85.5" y="20.5"><tspan class="r">后藤俊午</tspan>-NT</text></g>
<g transform="translate(437,478)"><rect class="b" x=".8" y=".8" width="169.4" height="63.7"/><text x="85.5" y="20.5"><tspan class="r">志田达哉</tspan>-山田规三生</text><text x="85.5" y="40.3">黑中盘胜</text><text x="85.5" y="58.7">2012-09-27</text></g>
<g transform="translate(437,658)"><rect class="b" x=".8" y=".8" width="169.4" height="63.7"/><text x="85.5" y="20.5"><tspan class="r">武宫正树</tspan>-大场惇也</text><text x="85.5" y="40.3">黑胜0.5目</text><text x="85.5" y="58.7">2012-09-20</text></g>
<g transform="translate(437,802)"><rect class="b" x=".8" y=".8" width="169.4" height="63.7"/><text x="85.5" y="20.5"><tspan class="r">结城聪</tspan>-NT</text></g>
<g transform="translate(437,1018)"><rect class="b" x=".8" y=".8" width="169.4" height="63.7"/><text x="85.5" y="20.5"><tspan class="r">张豊猷</tspan>-石田芳夫</text><text x="85.5" y="40.3">黑胜8.5目</text><text x="85.5" y="58.7">2012-08-23</text></g>
<g transform="translate(437,1198)"><rect class="b" x=".8" y=".8" width="169.4" height="63.7"/><text x="85.5" y="20.5">仓桥正行<tspan class="r">-新垣朱武</tspan></text><text x="85.5" y="40.3">白胜9.5目</text><text x="85.5" y="58.7">2012-09-12</text></g>
<g transform="translate(437,1450)"><rect class="b" x=".8" y=".8" width="169.4" height="63.7"/><text x="85.5" y="20.5"><tspan class="r">苏耀国</tspan>-金秀俊</text><text x="85.5" y="40.3">黑中盘胜</text><text x="85.5" y="58.7">2012-09-20</text></g>
<g transform="translate(437,1594)"><rect class="b" x=".8" y=".8" width="169.4" height="63.7"/><text x="85.5" y="20.5">今村俊也<tspan class="r">-余正麒</tspan></text><text x="85.5" y="40.3">白中盘胜</text><text x="85.5" y="58.7">2012-08-16</text></g>
<g transform="translate(437,1738)"><rect class="b" x=".8" y=".8" width="169.4" height="63.7"/><text x="85.5" y="20.5">仲邑信也<tspan class="r">-赵治勋</tspan></text><text x="85.5" y="40.3">白中盘胜</text><text x="85.5" y="58.7">2012-10-18</text></g>
<g transform="translate(437,1882)"><rect class="b" x=".8" y=".8" width="169.4" height="63.7"/><text x="85.5" y="20.5"><tspan class="r">石井邦生</tspan>-NT</text></g>
<g transform="translate(437,1990)"><rect class="b" x=".8" y=".8" width="169.4" height="63.7"/><text x="85.5" y="20.5">片冈聪<tspan class="r">-松本武久</tspan></text><text x="85.5" y="40.3">白胜5.5目</text><text x="85.5" y="58.7">2012-09-06</text></g>
<g transform="translate(437,2206)"><rect class="b" x=".8" y=".8" width="169.4" height="63.7"/><text x="85.5" y="20.5"><tspan class="r">小林觉</tspan>-小林光一</text><text x="85.5" y="40.3">黑胜0.5目</text><text x="85.5" y="58.7">2012-10-25</text></g>
<g transform="translate(437,2386)"><rect class="b" x=".8" y=".8" width="169.4" height="63.7"/><text x="85.5" y="20.5">辰己茜<tspan class="r">-久保胜昭</tspan></text><text x="85.5" y="40.3">白中盘胜</text><text x="85.5" y="58.7">2012-08-08</text></g>
<g transform="translate(437,2494)"><rect class="b" x=".8" y=".8" width="169.4" height="63.7"/><text x="85.5" y="20.5"><tspan class="r">沟上知亲</tspan>-王立诚</text><text x="85.5" y="40.3">黑中盘胜</text><text x="85.5" y="58.7">2012-10-11</text></g>
<g transform="translate(437,2602)"><rect class="b" x=".8" y=".8" width="169.4" height="63.7"/><text x="85.5" y="20.5"><tspan class="r">山下敬吾</tspan>-NT</text></g>
<g transform="translate(437,2746)"><rect class="b" x=".8" y=".8" width="169.4" height="63.7"/><text x="85.5" y="20.5">高尾绅路<tspan class="r">-三谷哲也</tspan></text><text x="85.5" y="40.3">白胜0.5目</text><text x="85.5" y="58.7">2012-09-13</text></g>
<g transform="translate(437,2890)"><rect class="b" x=".8" y=".8" width="169.4" height="63.7"/><text x="85.5" y="20.5"><tspan class="r">中根直行</tspan>-NT</text></g>
<g transform="translate(437,3070)"><rect class="b" x=".8" y=".8" width="169.4" height="63.7"/><text x="85.5" y="20.5">大竹英雄<tspan class="r">-李沂修</tspan></text><text x="85.5" y="40.3">白胜0.5目</text><text x="85.5" y="58.7">2012-09-27</text></g>
<g transform="translate(437,3394)"><rect class="b" x=".8" y=".8" width="169.4" height="63.7"/><text x="85.5" y="20.5"><tspan class="r">张栩</tspan>-NT</text></g>
<g transform="translate(437,3466)"><rect class="b" x=".8" y=".8" width="169.4" height="63.7"/><text x="85.5" y="20.5"><tspan class="r">尹春浩</tspan>-古谷裕</text><text x="85.5" y="40.3">黑中盘胜</text><text x="85.5" y="58.7">2012-09-06</text></g>
<g transform="translate(437,3538)"><rect class="b" x=".8" y=".8" width="169.4" height="63.7"/><text x="85.5" y="20.5">清成哲也<tspan class="r">-坂井秀至</tspan></text><text x="85.5" y="40.3">白中盘胜</text><text x="85.5" y="58.7">2012-09-26</text></g>
<g transform="translate(437,3610)"><rect class="b" x=".8" y=".8" width="169.4" height="63.7"/><text x="85.5" y="20.5"><tspan class="r">彦坂直人</tspan>-NT</text></g>

<!-- Column 4 -->
<g transform="translate(657,190)"><rect class="b" x=".8" y=".8" width="153.4" height="63.7"/><text x="77.5" y="20.5">汤川光久<tspan class="r">-河野临</tspan></text><text x="77.5" y="40.3">白胜5.5目</text><text x="77.5" y="58.7">2013-02-21</text></g>
<g transform="translate(657,442)"><rect class="b" x=".8" y=".8" width="153.4" height="63.7"/><text x="77.5" y="20.5">志田达哉<tspan class="r">-后藤俊午</tspan></text><text x="77.5" y="40.3">白中盘胜</text><text x="77.5" y="58.7">2013-01-10</text></g>
<g transform="translate(657,694)"><rect class="b" x=".8" y=".8" width="153.4" height="63.7"/><text x="77.5" y="20.5">结城聪<tspan class="r">-武宫正树</tspan></text><text x="77.5" y="40.3">白中盘胜</text><text x="77.5" y="58.7">2013-02-28</text></g>
<g transform="translate(657,874)"><rect class="b" x=".8" y=".8" width="153.4" height="63.7"/><text x="77.5" y="20.5">羽根直树<tspan class="r">-加藤充志</tspan></text><text x="77.5" y="40.3">白胜4.5目</text><text x="77.5" y="58.7">2012-11-22</text></g>
<g transform="translate(657,1090)"><rect class="b" x=".8" y=".8" width="153.4" height="63.7"/><text x="77.5" y="20.5">新垣朱武<tspan class="r">-张豊猷</tspan></text><text x="77.5" y="40.3">白中盘胜</text><text x="77.5" y="58.7">2013-01-31</text></g>
<g transform="translate(657,1306)"><rect class="b" x=".8" y=".8" width="153.4" height="63.7"/><text x="77.5" y="20.5"><tspan class="r">濑户大树</tspan>-黄翊祖</text><text x="77.5" y="40.3">黑中盘胜</text><text x="77.5" y="58.7">2013-01-31</text></g>
<g transform="translate(657,1486)"><rect class="b" x=".8" y=".8" width="153.4" height="63.7"/><text x="77.5" y="20.5"><tspan class="r">苏耀国</tspan>-余正麒</text><text x="77.5" y="40.3">黑中盘胜</text><text x="77.5" y="58.7">2012-11-29</text></g>
<g transform="translate(657,1774)"><rect class="b" x=".8" y=".8" width="153.4" height="63.7"/><text x="77.5" y="20.5"><tspan class="r">赵治勋</tspan>-石井邦生</text><text x="77.5" y="40.3">黑中盘胜</text><text x="77.5" y="58.7">2012-11-15</text></g>
<g transform="translate(657,2134)"><rect class="b" x=".8" y=".8" width="153.4" height="63.7"/><text x="77.5" y="20.5"><tspan class="r">松本武久</tspan>-小林觉</text><text x="77.5" y="40.3">黑中盘胜</text><text x="77.5" y="58.7">2012-11-15</text></g>
<g transform="translate(657,2458)"><rect class="b" x=".8" y=".8" width="153.4" height="63.7"/><text x="77.5" y="20.5">沟上知亲<tspan class="r">-久保胜昭</tspan></text><text x="77.5" y="40.3">白中盘胜</text><text x="77.5" y="58.7">2013-01-24</text></g>
<g transform="translate(657,2710)"><rect class="b" x=".8" y=".8" width="153.4" height="63.7"/><text x="77.5" y="20.5">三谷哲也<tspan class="r">-山下敬吾</tspan></text><text x="77.5" y="40.3">白胜1.5目</text><text x="77.5" y="58.7">2012-12-13</text></g>
<g transform="translate(657,3034)"><rect class="b" x=".8" y=".8" width="153.4" height="63.7"/><text x="77.5" y="20.5">李沂修<tspan class="r">-中根直行</tspan></text><text x="77.5" y="40.3">白胜3.5目</text><text x="77.5" y="58.7">2013-02-07</text></g>
<g transform="translate(657,3250)"><rect class="b" x=".8" y=".8" width="153.4" height="63.7"/><text x="77.5" y="20.5"><tspan class="r">秋山次郎</tspan>-上村阳生</text><text x="77.5" y="40.3">黑中盘胜</text><text x="77.5" y="58.7">2012-09-13</text></g>
<g transform="translate(657,3322)"><rect class="b" x=".8" y=".8" width="153.4" height="63.7"/><text x="77.5" y="20.5">中尾准吾<tspan class="r">-伊田笃史</tspan></text><text x="77.5" y="40.3">白胜0.5目</text><text x="77.5" y="58.7">2012-11-01</text></g>
<g transform="translate(657,3430)"><rect class="b" x=".8" y=".8" width="153.4" height="63.7"/><text x="77.5" y="20.5"><tspan class="r">张栩</tspan>-尹春浩</text><text x="77.5" y="40.3">黑中盘胜</text><text x="77.5" y="58.7">2012-12-13</text></g>
<g transform="translate(657,3574)"><rect class="b" x=".8" y=".8" width="153.4" height="63.7"/><text x="77.5" y="20.5">彦坂直人<tspan class="r">-坂井秀至</tspan></text><text x="77.5" y="40.3">白胜5.5目</text><text x="77.5" y="58.7">2013-01-17</text></g>

<!-- Column 5 -->
<g transform="translate(861,298)"><rect class="b" x=".8" y=".8" width="153.4" height="63.7"/><text x="77.5" y="20.5"><tspan class="r">河野临</tspan>-后藤俊午</text><text x="77.5" y="40.3">黑中盘胜</text><text x="77.5" y="58.7">2013-03-28</text></g>
<g transform="translate(861,730)"><rect class="b" x=".8" y=".8" width="153.4" height="63.7"/><text x="77.5" y="20.5">加藤充志<tspan class="r">-武宫正树</tspan></text><text x="77.5" y="40.3">白胜3.5目</text><text x="77.5" y="58.7">2013-04-11</text></g>
<g transform="translate(861,1126)"><rect class="b" x=".8" y=".8" width="153.4" height="63.7"/><text x="77.5" y="20.5">濑户大树<tspan class="r">-张豊猷</tspan></text><text x="77.5" y="40.3">白中盘胜</text><text x="77.5" y="58.7">2013-03-04</text></g>
<g transform="translate(861,1630)"><rect class="b" x=".8" y=".8" width="153.4" height="63.7"/><text x="77.5" y="20.5">赵治勋<tspan class="r">-苏耀国</tspan></text><text x="77.5" y="40.3">白胜0.5目</text><text x="77.5" y="58.7">2013-03-21</text></g>
<g transform="translate(861,2242)"><rect class="b" x=".8" y=".8" width="153.4" height="63.7"/><text x="77.5" y="20.5">久保胜昭<tspan class="r">-松本武久</tspan></text><text x="77.5" y="40.3">白中盘胜</text><text x="77.5" y="58.7">2013-02-14</text></g>
<g transform="translate(861,2890)"><rect class="b" x=".8" y=".8" width="153.4" height="63.7"/><text x="77.5" y="20.5"><tspan class="r">山下敬吾</tspan>-中根直行</text><text x="77.5" y="40.3">黑中盘胜</text><text x="77.5" y="58.7">2013-03-07</text></g>
<g transform="translate(861,3286)"><rect class="b" x=".8" y=".8" width="153.4" height="63.7"/><text x="77.5" y="20.5">伊田笃史<tspan class="r">-秋山次郎</tspan></text><text x="77.5" y="40.3">白中盘胜</text><text x="77.5" y="58.7">2013-03-07</text></g>
<g transform="translate(861,3502)"><rect class="b" x=".8" y=".8" width="153.4" height="63.7"/><text x="77.5" y="20.5"><tspan class="r">张栩</tspan>-坂井秀至</text><text x="77.5" y="40.3">黑胜1.5目</text><text x="77.5" y="58.7">2013-04-18</text></g>

<!-- Column 6 -->
<g transform="translate(1065,478)"><rect class="b" x=".8" y=".8" width="152.4" height="63.7"/><text x="77" y="20.5">武宫正树<tspan class="r">-河野临</tspan></text><text x="77" y="40.3">白中盘胜</text><text x="77" y="58.7">2013-05-02</text></g>
<g transform="translate(1065,1414)"><rect class="b" x=".8" y=".8" width="152.4" height="63.7"/><text x="77" y="20.5"><tspan class="r">张豊猷</tspan>-苏耀国</text><text x="77" y="40.3">黑中盘胜</text><text x="77" y="58.7">2013-05-09</text></g>
<g transform="translate(1065,2566)"><rect class="b" x=".8" y=".8" width="152.4" height="63.7"/><text x="77" y="20.5">山下敬吾<tspan class="r">-松本武久</tspan></text><text x="77" y="40.3">白中盘胜</text><text x="77" y="58.7">2013-04-25</text></g>
<g transform="translate(1065,3430)"><rect class="b" x=".8" y=".8" width="152.4" height="63.7"/><text x="77" y="20.5">张栩<tspan class="r">-秋山次郎</tspan></text><text x="77" y="40.3">白胜0.5目</text><text x="77" y="58.7">2013-05-09</text></g>

<!-- Column 7 -->
<g transform="translate(1268,982)"><rect class="b" x=".8" y=".8" width="153.4" height="63.7"/><text x="77.5" y="20.5"><tspan class="r">河野临</tspan>-张豊猷</text><text x="77.5" y="40.3">黑胜0.5目</text><text x="77.5" y="58.7">2013-05-23</text></g>
<g transform="translate(1268,2782)"><rect class="b" x=".8" y=".8" width="153.4" height="63.7"/><text x="77.5" y="20.5">秋山次郎<tspan class="r">-松本武久</tspan></text><text x="77.5" y="40.3">白胜1.5目</text><text x="77.5" y="58.7">2013-05-23</text></g>

<!-- Column 8 -->
<g transform="translate(1472,10)"><rect class="b" x=".8" y=".8" width="137.4" height="63.7"/><text x="69.5" y="20.5"><tspan class="r">井山裕太</tspan>-NT</text></g>
<g transform="translate(1472,1846)"><rect class="b" x=".8" y=".8" width="137.4" height="63.7"/><text x="69.5" y="20.5"><tspan class="r">河野临</tspan>-松本武久</text><text x="69.5" y="40.3">黑胜1.5目</text><text x="69.5" y="58.7">2013-06-03</text></g>

<!-- Column 9 -->
<g transform="translate(1660,1810)"><rect class="b" x=".8" y=".8" width="137.4" height="63.7"/><text x="69.5" y="20.5">河野临<tspan class="r">-井山裕太</tspan></text><text x="69.5" y="40.3">白胜2.5目</text><text x="69.5" y="58.7">2013-08-23</text></g>
</g>
</svg>
</body></html>
